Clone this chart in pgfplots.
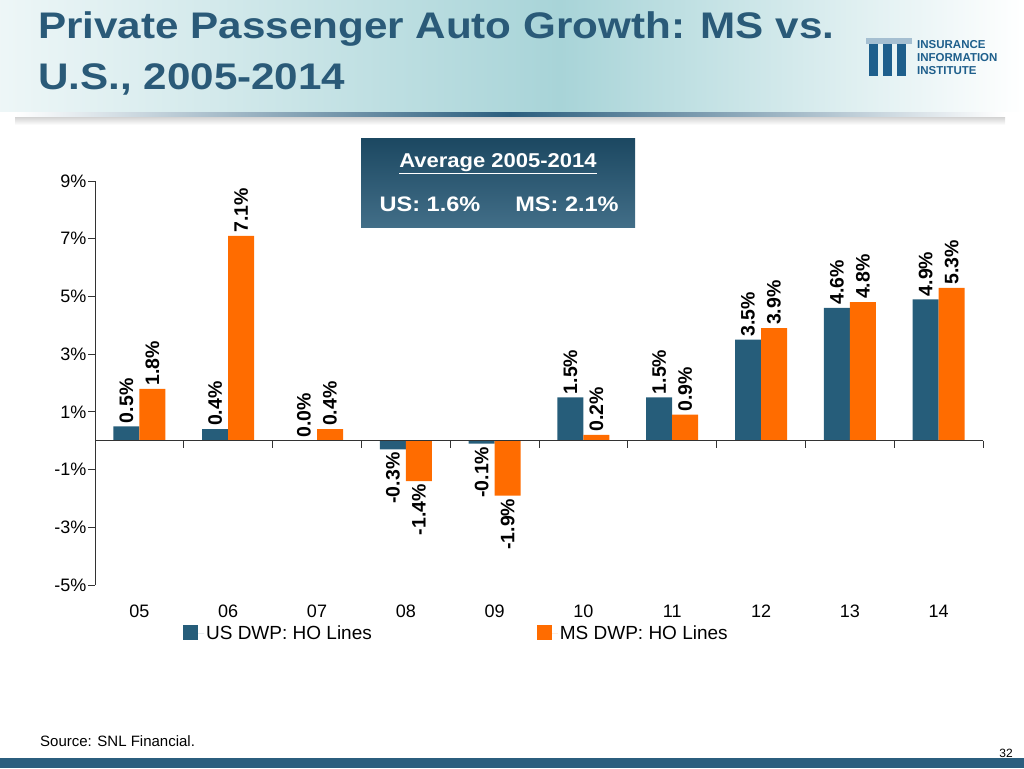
\documentclass[border=0pt]{standalone}
\usepackage{pgfplots}
\pgfplotsset{compat=1.18}
\usepackage{fontspec}
\setmainfont{Liberation Sans}
\definecolor{usblue}{RGB}{38,93,122}
\definecolor{msorange}{RGB}{255,108,0}
\definecolor{titleblue}{RGB}{42,90,120}
\definecolor{teal1}{RGB}{168,212,216}
\definecolor{boxblue}{RGB}{33,85,115}
\definecolor{logoblue}{RGB}{30,95,140}
\definecolor{stripe}{RGB}{43,94,126}
\begin{document}
\begin{tikzpicture}[x=1pt,y=1pt]
\path[use as bounding box] (0,0) rectangle (1024,768);
% header
\shade[left color=white!80!teal1, right color=teal1] (0,656) rectangle (560,768);
\shade[left color=teal1, right color=white] (560,656) rectangle (1024,768);
\shade[left color=white, right color=white, middle color=stripe] (15,650) rectangle (1005,655);
\shade[top color=black!15, bottom color=white] (15,643) rectangle (1005,650);
% title
\node[anchor=base west, inner sep=0, text=titleblue, font=\fontsize{37}{37}\selectfont\bfseries] at (38,729) {\scalebox{1.14}[1]{Private Passenger Auto Growth: MS vs.}};
\node[anchor=base west, inner sep=0, text=titleblue, font=\fontsize{37}{37}\selectfont\bfseries] at (38,678) {\scalebox{1.14}[1]{U.S., 2005-2014}};
% logo
\fill[logoblue] (869,692) rectangle (878,730);
\fill[logoblue] (883,692) rectangle (892,730);
\fill[logoblue] (897,692) rectangle (906,730);
\fill[white!60!logoblue] (866,724) -- (912,724) -- (912,730) -- (866,730) -- cycle;
\node[anchor=west, inner sep=0, align=left, text=logoblue, font=\fontsize{11.5}{13}\selectfont\bfseries] at (917,710) {INSURANCE\\INFORMATION\\INSTITUTE};
% average box
\shade[top color=boxblue!85!black, bottom color=boxblue!85!white] (361,540) rectangle (635,629);
\node[text=white, font=\fontsize{20}{20}\selectfont\bfseries] at (498,604) {\scalebox{1.1}[1]{\underline{Average 2005-2014}}};
\node[text=white, font=\fontsize{21}{21}\selectfont\bfseries] at (430,564) {\scalebox{1.12}[1]{US: 1.6\%}};
\node[text=white, font=\fontsize{21}{21}\selectfont\bfseries] at (567,564) {\scalebox{1.12}[1]{MS: 2.1\%}};
% footer
\node[anchor=base west, inner sep=0, font=\fontsize{15}{15}\selectfont] at (40,22) {Source: SNL Financial.};
\node[anchor=base east, inner sep=0, font=\fontsize{12}{12}\selectfont] at (1013,11) {32};
\fill[stripe] (0,0) rectangle (1024,10);
\begin{axis}[
  at={(95pt,183pt)}, anchor=south west,
  scale only axis, width=888pt, height=404pt,
  xmin=-0.5, xmax=9.5, ymin=-5, ymax=9,
  axis lines*=left,
  x axis line style={draw=none},
  y axis line style={black!80, line width=0.8pt},
  ytick={-5,-3,...,9},
  yticklabel={\pgfmathprintnumber{\tick}\%},
  xtick={0,...,9},
  xticklabels={05,06,07,08,09,10,11,12,13,14},
  major x tick style={draw=none},
  tick align=outside,
  major tick length=7pt,
  ytick style={black!80, line width=0.8pt},
  /pgf/number format/assume math mode=true,
  tick label style={font=\fontsize{18}{18}\selectfont},
  yticklabel style={xshift=2pt},
  xticklabel style={yshift=-9pt, text height=13pt, text depth=0pt},
  ybar, bar width=26pt,
  clip=false,
  legend columns=2,
  legend style={at={(0.099,-0.095)}, anchor=north west, draw=none, fill=none,
    font=\fontsize{19}{19}\selectfont, inner sep=0pt,
    /tikz/every even column/.append style={column sep=163pt}},
  legend image code/.code={\fill[#1] (0pt,-7pt) rectangle (15pt,8pt); \path (0pt,0pt) -- (21pt,0pt);},
  visualization depends on={rawy \as \rawy},
  nodes near coords={\pgfmathprintnumber[fixed,fixed zerofill,precision=1]{\pgfplotspointmeta}\%},
  every node near coord/.append style={rotate=90, inner sep=3pt, text=black,
    font=\fontsize{19.5}{19.5}\selectfont\bfseries,
    anchor={\ifdim\rawy pt<0pt east\else west\fi}},
]
\addplot[fill=usblue, draw=none, bar shift=-13pt] coordinates {
(0,0.5) (1,0.4) (2,0.0) (3,-0.3) (4,-0.1) (5,1.5) (6,1.5) (7,3.5) (8,4.6) (9,4.9)};
\addlegendentry{US DWP: HO Lines}
\addplot[fill=msorange, draw=none, bar shift=13pt] coordinates {
(0,1.8) (1,7.1) (2,0.4) (3,-1.4) (4,-1.9) (5,0.2) (6,0.9) (7,3.9) (8,4.8) (9,5.3)};
\addlegendentry{MS DWP: HO Lines}
\draw[black!80, line width=0.8pt] (axis cs:-0.5,0) -- (axis cs:9.5,0);
\pgfplotsinvokeforeach{0.5,1.5,2.5,3.5,4.5,5.5,6.5,7.5,8.5,9.5}{\draw[black!80, line width=0.8pt] (axis cs:#1,0) -- ++(0pt,-7pt);}
\end{axis}
\end{tikzpicture}
\end{document}
